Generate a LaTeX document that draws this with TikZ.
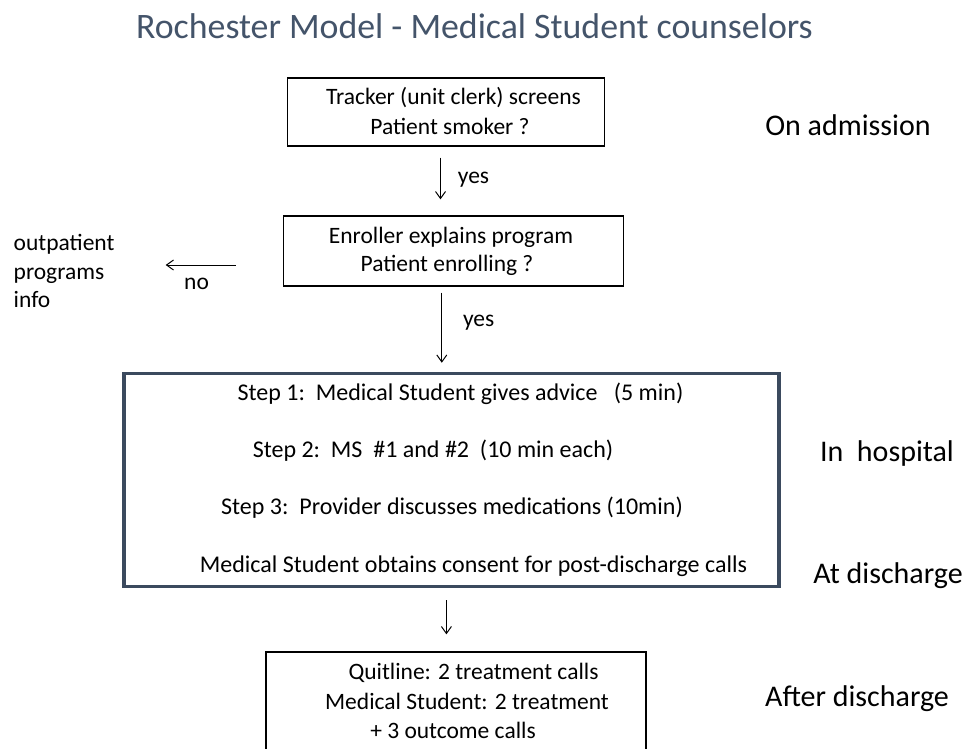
\documentclass[tikz,border=0pt]{standalone}
\usepackage{fontspec}
\setmainfont{Carlito}
\usetikzlibrary{arrows.meta}
\definecolor{titleblue}{HTML}{44546A}
\definecolor{framecol}{HTML}{3B4A5E}
\begin{document}
\begin{tikzpicture}[x=1pt,y=-1pt,
  box/.style={draw, line width=1.3pt, inner sep=0pt},
  bigbox/.style={draw=framecol, line width=3.5pt, inner sep=0pt},
  txt/.style={font=\fontsize{23.5}{28.5}\selectfont, inner sep=0pt},
  steptxt/.style={font=\fontsize{24}{28.5}\selectfont, inner sep=0pt},
  side/.style={font=\fontsize{30}{36}\selectfont, inner sep=0pt},
  arr/.style={-{Straight Barb[length=7pt,width=10pt]}, line width=1pt}]
\useasboundingbox (0,0) rectangle (966,748);
\clip (0,0) rectangle (966,748);
\fill[white] (0,0) rectangle (966,748);

% title
\node[font=\fontsize{35.8}{40}\selectfont, text=titleblue, inner sep=0pt] (title) at (474.5,26) {Rochester Model - Medical Student counselors};

% boxes
\node[box, minimum width=317, minimum height=68] (b1) at (446,112) {};
\node[txt] (t1a) at (453.5,97.5) {Tracker (unit clerk) screens};
\node[txt] (t1b) at (450,126.5) {Patient smoker ?};

\node[box, minimum width=340, minimum height=70] (b2) at (453.5,251) {};
\node[txt] (t2a) at (451,237) {Enroller explains program};
\node[txt] (t2b) at (447,265.5) {Patient enrolling ?};

\node[txt, align=left, anchor=west] (op) at (13.5,271) {outpatient\\programs\\info};
\node[txt] (no) at (196.6,283.5) {no};

\node[bigbox, minimum width=655, minimum height=213] (big) at (451.3,480) {};
\node[steptxt] (s1) at (460.5,393.5) {Step 1:\ \ Medical Student gives advice\ \ \ (5 min)};
\node[steptxt] (s2) at (433,450.5) {Step 2:\ \ MS\ \ \#1 and \#2\ \ (10 min each)};
\node[steptxt] (s3) at (452,508) {Step 3:\ \ Provider discusses medications (10min)};
\node[steptxt] (s4) at (473.5,566.5) {Medical Student obtains consent for post-discharge calls};

\node[box, minimum width=380, minimum height=120] (b4) at (456,712) {};
\node[txt] (q1) at (473.5,673) {Quitline: 2 treatment calls};
\node[txt] (q2) at (467,701.5) {Medical Student: 2 treatment};
\node[txt] (q3) at (453,730) {+ 3 outcome calls};

% side labels
\node[side] (l1) at (848,125.5) {On admission};
\node[side] (l2) at (887,453.5) {In\ \ hospital};
\node[side] (l3) at (888,575.5) {At discharge};
\node[side] (l4) at (857,699) {After discharge};

% connector x positions
\coordinate (ax1) at (440.5,0);
\coordinate (ax2) at (441.8,0);
\coordinate (ax3) at (446.4,0);
\coordinate (noy) at (0,265);

\draw[arr, shorten <=11pt, shorten >=16pt] (b1.south -| ax1) -- (b2.north -| ax1);
\node[txt] (yes1) at (473.5,179.5) {yes};

\draw[arr, shorten <=6pt, shorten >=9pt] (b2.south -| ax2) -- (big.north -| ax2);
\node[txt] (yes2) at (478.7,323) {yes};

\draw[arr, shorten <=47pt, shorten >=51pt] (b2.west |- noy) -- (op.east |- noy);

\draw[arr, shorten <=12pt, shorten >=17pt] (big.south -| ax3) -- (b4.north -| ax3);
\end{tikzpicture}
\end{document}
